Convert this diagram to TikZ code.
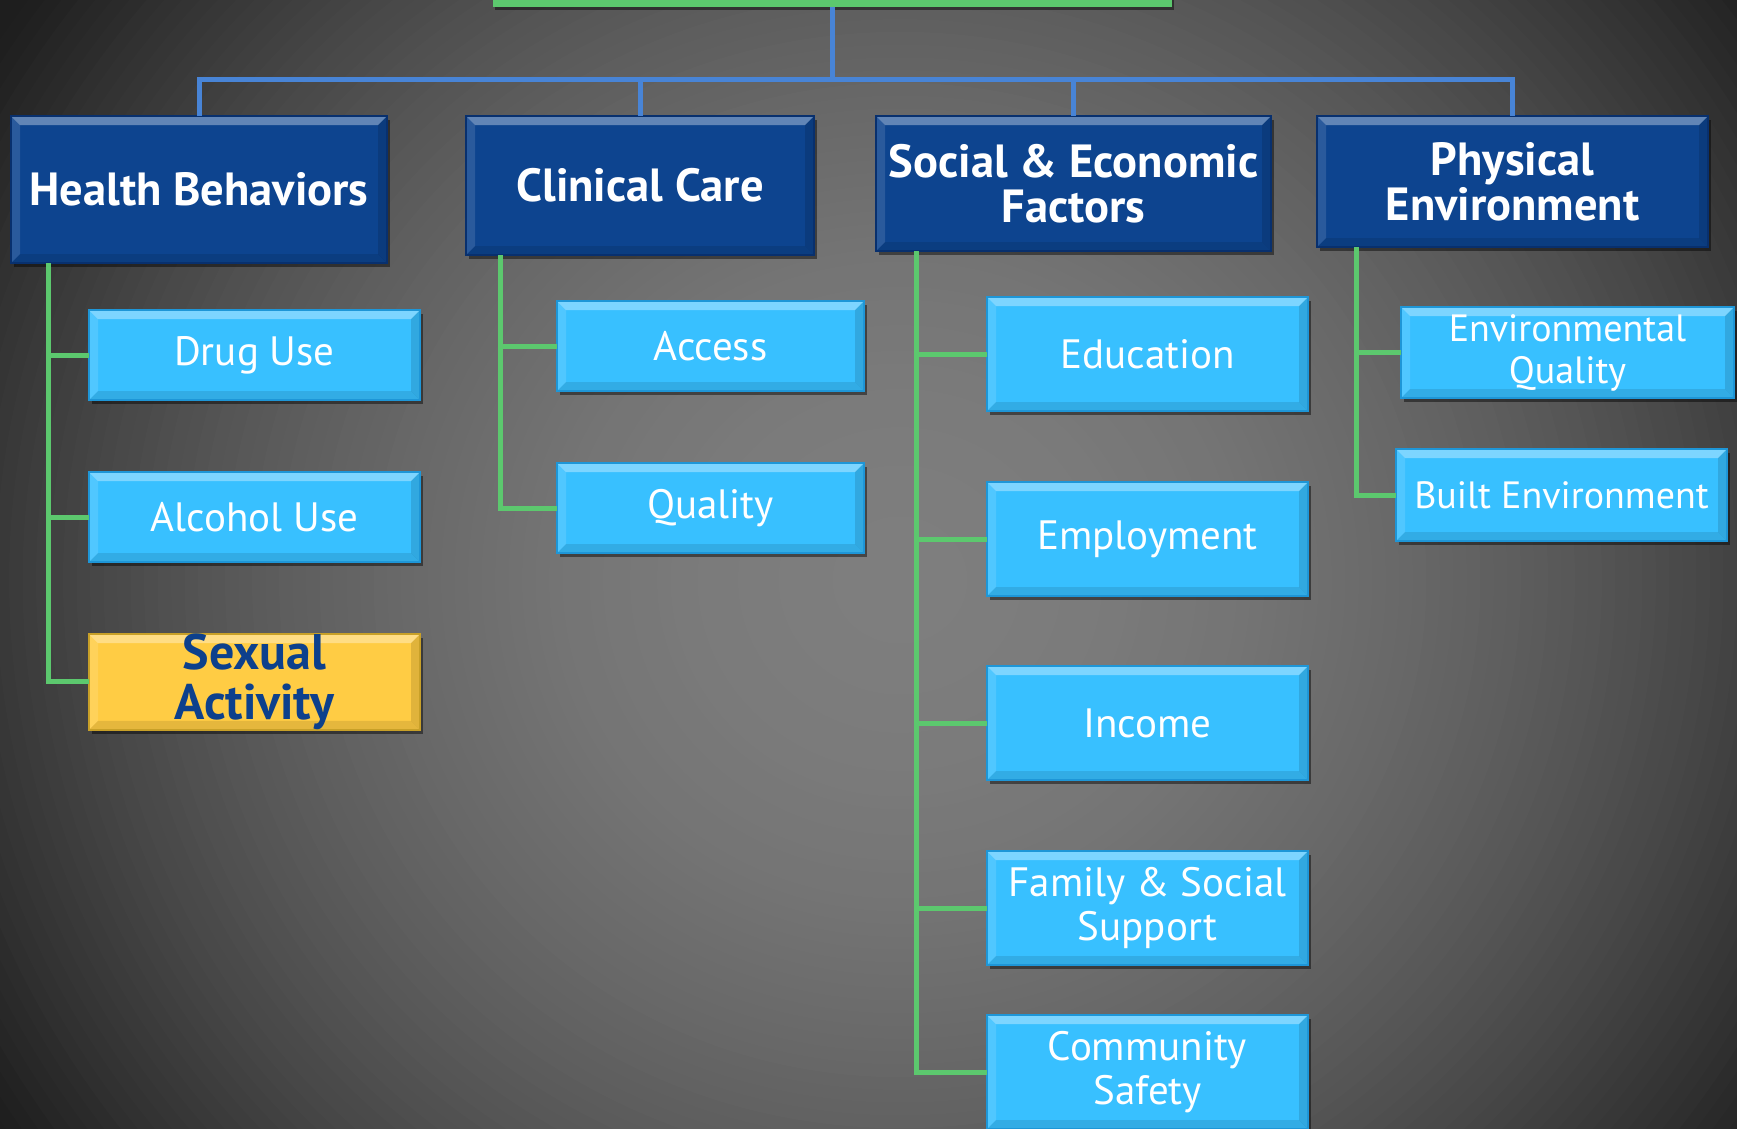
\documentclass[tikz,border=0pt]{standalone}
\usepackage{fontspec}
\setmainfont{PT Sans}
\usetikzlibrary{shadows}
\definecolor{hdr}{RGB}{13,68,143}
\definecolor{hdrD}{RGB}{8,48,110}
\definecolor{child}{RGB}{56,192,255}
\definecolor{childD}{RGB}{30,150,215}
\definecolor{ybox}{RGB}{255,204,68}
\definecolor{yboxD}{RGB}{200,160,40}
\definecolor{ytext}{RGB}{13,64,140}
\definecolor{grn}{RGB}{92,200,110}
\definecolor{blu}{RGB}{72,132,214}
\tikzset{
  bev/.style={path picture={
    \fill[white,opacity=.35] (path picture bounding box.north west) -- (path picture bounding box.north east)
      -- ([shift={(-9pt,-9pt)}]path picture bounding box.north east) -- ([shift={(9pt,-9pt)}]path picture bounding box.north west) -- cycle;
    \fill[white,opacity=.12] (path picture bounding box.north west) -- ([shift={(9pt,-9pt)}]path picture bounding box.north west)
      -- ([shift={(9pt,9pt)}]path picture bounding box.south west) -- (path picture bounding box.south west) -- cycle;
    \fill[black,opacity=.12] (path picture bounding box.north east) -- ([shift={(-9pt,-9pt)}]path picture bounding box.north east)
      -- ([shift={(-9pt,9pt)}]path picture bounding box.south east) -- (path picture bounding box.south east) -- cycle;
    \fill[black,opacity=.10] (path picture bounding box.south west) -- (path picture bounding box.south east)
      -- ([shift={(-9pt,9pt)}]path picture bounding box.south east) -- ([shift={(9pt,9pt)}]path picture bounding box.south west) -- cycle;
  }},
  box/.style={anchor=north west, inner sep=0pt, outer sep=0pt, align=center, line width=1.2pt,
    drop shadow={shadow xshift=3pt, shadow yshift=-4pt, opacity=.45, fill=black}, bev},
  hdrbox/.style={box, fill=hdr, draw=hdrD, text=white, font=\fontsize{46.5}{45}\selectfont\bfseries},
  childbox/.style={box, fill=child, draw=childD, text=white, font=\fontsize{41}{44}\selectfont},
  yelbox/.style={box, fill=ybox, draw=yboxD, text=ytext, font=\fontsize{50}{50}\selectfont\bfseries},
  bluec/.style={draw=blu, line width=5pt},
  grnc/.style={draw=grn, line width=5pt}
}
\begin{document}
\begin{tikzpicture}[x=1pt,y=-1pt]
\useasboundingbox (0,0) rectangle (1737,1128);
\begin{scope}
\clip (0,0) rectangle (1737,1128);
\definecolor{bgtmp}{gray}{0.12}
\fill[bgtmp] (0,0) rectangle (1737,1128);
\foreach \i in {100,...,1}{
  \pgfmathsetmacro\r{\i*0.015}
  \pgfmathsetmacro\g{max(30,126-68*\r*\r)/255}
  \pgfmathsetmacro\rx{\r*900}
  \pgfmathsetmacro\ry{\r*850}
  \definecolor{bgtmp}{gray}{\g}
  \fill[bgtmp] (900,580) ellipse [x radius=\rx pt, y radius=\ry pt];
}
\end{scope}

% top bar
\node[anchor=north west, fill=grn, inner sep=0pt, outer sep=0pt, minimum width=679pt, minimum height=27pt,
  drop shadow={shadow xshift=2pt, shadow yshift=-3pt, opacity=.45, fill=black}] (top) at (493,-20) {};

% headers
\node[hdrbox, minimum width=376pt, minimum height=147pt] (hb) at (11,116) {Health Behaviors};
\node[hdrbox, minimum width=348pt, minimum height=139pt] (cc) at (466,116) {Clinical Care};
\node[hdrbox, minimum width=395pt, minimum height=135pt] (se) at (876,116) {Social \& Economic\\Factors};
\node[hdrbox, minimum width=391pt, minimum height=131pt] (pe) at (1317,116) {Physical\\Environment};

% blue connectors
\coordinate (bus) at (832,79);
\draw[bluec] (top.south) -- (top.south |- bus);
\draw[bluec] (hb.north) |- (bus) -| (pe.north);
\draw[bluec] (cc.north) -- (cc.north |- bus);
\draw[bluec] (se.north) -- (se.north |- bus);

% children
\node[childbox, minimum width=331pt, minimum height=90pt] (drug) at (89,310) {Drug Use};
\node[childbox, minimum width=331pt, minimum height=90pt] (alc) at (89,472) {Alcohol Use};
\node[yelbox, minimum width=331pt, minimum height=92pt] (sex) at (89,634) {Sexual\\Activity};

\node[childbox, minimum width=307pt, minimum height=90pt] (acc) at (557,301) {Access};
\node[childbox, minimum width=307pt, minimum height=90pt] (qual) at (557,463) {Quality};

\node[childbox, minimum width=321pt, minimum height=114pt] (edu) at (987,297) {Education};
\node[childbox, minimum width=321pt, minimum height=114pt] (emp) at (987,482) {Employment};
\node[childbox, minimum width=321pt, minimum height=114pt] (inc) at (987,666) {Income};
\node[childbox, minimum width=321pt, minimum height=114pt] (fam) at (987,851) {Family \& Social\\Support};
\node[childbox, minimum width=321pt, minimum height=114pt] (com) at (987,1015) {Community\\Safety};

\node[childbox, minimum width=333pt, minimum height=91pt, font=\fontsize{38}{42}\selectfont] (envq) at (1401,307) {Environmental\\Quality};
\node[childbox, minimum width=331pt, minimum height=92pt, font=\fontsize{38}{42}\selectfont] (built) at (1396,449) {Built Environment};

% green connectors
\coordinate (hbl) at (48,0);
\coordinate (ccl) at (500,0);
\coordinate (sel) at (916,0);
\coordinate (pel) at (1356,0);
\draw[grnc] (hb.south -| hbl) |- (sex.west);
\draw[grnc] (drug.west -| hbl) -- (drug.west);
\draw[grnc] (alc.west -| hbl) -- (alc.west);

\draw[grnc] (cc.south -| ccl) |- (qual.west);
\draw[grnc] (acc.west -| ccl) -- (acc.west);

\draw[grnc] (se.south -| sel) |- (com.west);
\draw[grnc] (edu.west -| sel) -- (edu.west);
\draw[grnc] (emp.west -| sel) -- (emp.west);
\draw[grnc] (inc.west -| sel) -- (inc.west);
\draw[grnc] (fam.west -| sel) -- (fam.west);

\draw[grnc] (pe.south -| pel) |- (built.west);
\draw[grnc] (envq.west -| pel) -- (envq.west);
\end{tikzpicture}
\end{document}
